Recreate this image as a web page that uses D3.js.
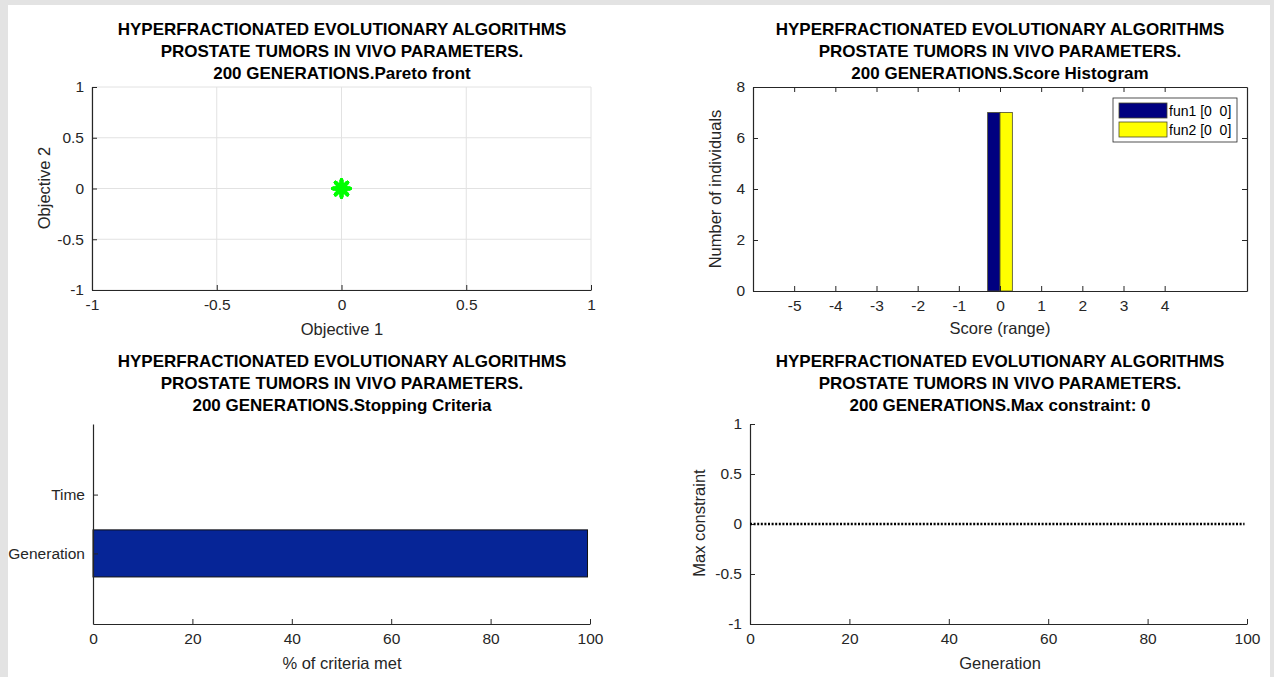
<!DOCTYPE html>
<html><head><meta charset="utf-8">
<script src="https://cdn.jsdelivr.net/npm/d3@7"></script>
<style>
html,body{margin:0;padding:0;background:#e3e3e3;}
svg{display:block;font-family:"Liberation Sans",Arial,sans-serif;}
</style></head><body>
<svg id="c" width="1274" height="677"></svg>
<script>
// ---------- data ----------
const titleLines = ["HYPERFRACTIONATED EVOLUTIONARY ALGORITHMS", "PROSTATE TUMORS IN VIVO PARAMETERS."];
const panelTitles = ["200 GENERATIONS.Pareto front", "200 GENERATIONS.Score Histogram", "200 GENERATIONS.Stopping Criteria", "200 GENERATIONS.Max constraint: 0"];

// Pareto front (7 individuals, all at origin)
const paretoObj1 = [0, 0, 0, 0, 0, 0, 0];
const paretoObj2 = [0, 0, 0, 0, 0, 0, 0];
const paretoTicks = [-1, -0.5, 0, 0.5, 1];

// Score histogram
const histSeries = ["fun1 [0  0]", "fun2 [0  0]"];
const histBins = [0];
const histCounts = [[7], [7]];
const histXTicks = [-5, -4, -3, -2, -1, 0, 1, 2, 3, 4];
const histYTicks = [0, 2, 4, 6, 8];

// Stopping criteria
const stopCategories = ["Generation", "Time"];
const stopValues = [99.5, 0];
const stopXTicks = [0, 20, 40, 60, 80, 100];

// Max constraint
const mcGeneration = [0, 99.5];
const mcValue = [0, 0];
const mcXTicks = [0, 20, 40, 60, 80, 100];
const mcYTicks = [-1, -0.5, 0, 0.5, 1];

// ---------- drawing ----------
const svg = d3.select("#c");
svg.append("rect").attr("x", 8).attr("y", 5).attr("width", 1262).attr("height", 672).attr("fill", "#fff");

const AX = "#262626";
const TICK_FS = 15.5, LABEL_FS = 16.5, TITLE_FS = 17;
const fmt = d => String(d);

function title(cx, y0, sub) {
  const t = svg.append("text").attr("text-anchor", "middle").attr("font-weight", "bold")
    .attr("font-size", TITLE_FS).attr("fill", "#000");
  titleLines.concat([sub]).forEach((s, i) => {
    t.append("tspan").attr("x", cx).attr("y", y0 + i * 22).text(s);
  });
}
function label(x, y, s, rot) {
  const t = svg.append("text").attr("text-anchor", "middle").attr("font-size", LABEL_FS).attr("fill", AX).text(s);
  if (rot) t.attr("transform", `translate(${x},${y}) rotate(-90)`);
  else t.attr("x", x).attr("y", y);
}
function style(g) {
  g.select(".domain").attr("stroke", AX).attr("stroke-width", 1.2);
  g.selectAll(".tick line").attr("stroke", AX);
  g.selectAll(".tick text").attr("font-size", TICK_FS).attr("fill", AX).attr("font-family", "Liberation Sans, Arial");
  return g;
}
function xAxis(sc, y, ticks) {
  return style(svg.append("g").attr("transform", `translate(0,${y})`)
    .call(d3.axisBottom(sc).tickValues(ticks).tickFormat(fmt).tickSizeInner(-5).tickSizeOuter(0).tickPadding(9)));
}
function yAxis(sc, x, ticks, f) {
  return style(svg.append("g").attr("transform", `translate(${x},0)`)
    .call(d3.axisLeft(sc).tickValues(ticks).tickFormat(f || fmt).tickSizeInner(-5).tickSizeOuter(0).tickPadding(8)));
}

// ---- Panel 1: Pareto front ----
{
  const x = d3.scaleLinear().domain([-1, 1]).range([92, 591]);
  const y = d3.scaleLinear().domain([-1, 1]).range([290, 87]);
  const gg = svg.append("g");
  paretoTicks.forEach(t => {
    gg.append("line").attr("x1", x(t)).attr("x2", x(t)).attr("y1", y(-1)).attr("y2", y(1)).attr("stroke", "#e2e2e2");
    gg.append("line").attr("x1", x(-1)).attr("x2", x(1)).attr("y1", y(t)).attr("y2", y(t)).attr("stroke", "#e2e2e2");
  });
  xAxis(x, y(-1), paretoTicks);
  yAxis(y, x(-1), paretoTicks);
  const pts = paretoObj1.map((v, i) => [v, paretoObj2[i]]);
  const r = 8.5;
  pts.forEach(([a, b]) => {
    const cx = x(a), cy = y(b);
    const m = svg.append("g").attr("stroke", "#00ff00").attr("stroke-width", 3.4).attr("stroke-linecap", "round");
    m.append("line").attr("x1", cx).attr("x2", cx).attr("y1", cy - r).attr("y2", cy + r);
    m.append("line").attr("x1", cx - r).attr("x2", cx + r).attr("y1", cy).attr("y2", cy);
    m.append("line").attr("x1", cx - r * 0.7).attr("x2", cx + r * 0.7).attr("y1", cy - r * 0.7).attr("y2", cy + r * 0.7);
    m.append("line").attr("x1", cx - r * 0.7).attr("x2", cx + r * 0.7).attr("y1", cy + r * 0.7).attr("y2", cy - r * 0.7);
    svg.append("circle").attr("cx", cx).attr("cy", cy).attr("r", 6).attr("fill", "#00ff00");
  });
  title(342, 35, panelTitles[0]);
  label(342, 335, "Objective 1");
  label(50, 188, "Objective 2", true);
}

// ---- Panel 2: Score histogram ----
{
  const x = d3.scaleLinear().domain([-6, 6]).range([753, 1247]);
  const y = d3.scaleLinear().domain([0, 8]).range([291, 87]);
  const colors = ["#000080", "#ffff00"];
  const bw = 0.3;
  histSeries.forEach((s, si) => {
    histBins.forEach((b, bi) => {
      const x0 = b - bw + si * bw;
      svg.append("rect").attr("x", x(x0)).attr("y", y(histCounts[si][bi]))
        .attr("width", x(x0 + bw) - x(x0)).attr("height", y(0) - y(histCounts[si][bi]))
        .attr("fill", colors[si]).attr("stroke", "#4a4a2a").attr("stroke-width", 0.8);
    });
  });
  xAxis(x, y(0), histXTicks);
  const top = svg.append("g").attr("transform", `translate(0,${y(8)})`)
    .call(d3.axisTop(x).tickValues(histXTicks).tickFormat("").tickSizeInner(-5).tickSizeOuter(0));
  style(top);
  yAxis(y, x(-6), histYTicks);
  const right = svg.append("g").attr("transform", `translate(${x(6)},0)`)
    .call(d3.axisRight(y).tickValues(histYTicks).tickFormat("").tickSizeInner(-5).tickSizeOuter(0));
  style(right);
  // legend
  const lg = svg.append("g");
  lg.append("rect").attr("x", 1113).attr("y", 98).attr("width", 124).attr("height", 44)
    .attr("fill", "#fff").attr("stroke", "#262626").attr("stroke-width", 0.8);
  histSeries.forEach((s, i) => {
    lg.append("rect").attr("x", 1119).attr("y", 103 + i * 19).attr("width", 48).attr("height", 15)
      .attr("fill", colors[i]).attr("stroke", "#4a4a2a").attr("stroke-width", 0.8);
    lg.append("text").attr("x", 1169).attr("y", 115.5 + i * 19).attr("font-size", 14).attr("fill", "#000")
      .attr("xml:space", "preserve").text(s);
  });
  title(1000, 35, panelTitles[1]);
  label(1000, 334, "Score (range)");
  label(721, 189, "Number of individuals", true);
}

// ---- Panel 3: Stopping criteria ----
{
  const x = d3.scaleLinear().domain([0, 100]).range([93, 590]);
  const y = d3.scaleLinear().domain([-0.2, 3.2]).range([624, 424]);
  const pos = stopCategories.map((c, i) => i + 1);
  stopCategories.forEach((c, i) => {
    if (stopValues[i] > 0) {
      svg.append("rect").attr("x", x(0)).attr("y", y(pos[i] + 0.4)).attr("width", x(stopValues[i]) - x(0))
        .attr("height", y(pos[i] - 0.4) - y(pos[i] + 0.4)).attr("fill", "#062597").attr("stroke", "#111").attr("stroke-width", 1);
    }
  });
  xAxis(x, y(-0.2), stopXTicks);
  yAxis(y, x(0), pos, (d) => stopCategories[d - 1]);
  title(342, 367, panelTitles[2]);
  label(342, 669, "% of criteria met");
}

// ---- Panel 4: Max constraint ----
{
  const x = d3.scaleLinear().domain([0, 100]).range([750, 1247]);
  const y = d3.scaleLinear().domain([-1, 1]).range([624, 424]);
  xAxis(x, y(-1), mcXTicks);
  yAxis(y, x(0), mcYTicks);
  const line = d3.line().x((d, i) => x(mcGeneration[i])).y((d) => y(d));
  svg.append("path").datum(mcValue).attr("d", line).attr("fill", "none")
    .attr("stroke", "#000").attr("stroke-width", 2.6).attr("stroke-dasharray", "2,1.6");
  title(1000, 367, panelTitles[3]);
  label(1000, 669, "Generation");
  label(705, 523, "Max constraint", true);
}
</script>
</body></html>
